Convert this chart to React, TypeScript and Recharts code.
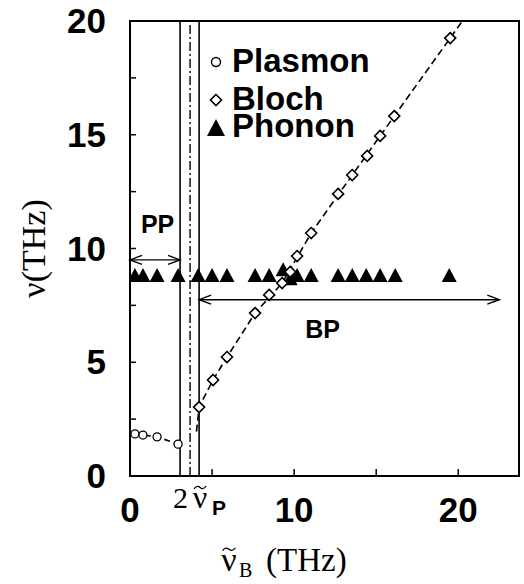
import React from 'react';
import {
  ComposedChart, XAxis, YAxis, Scatter, ReferenceLine, ReferenceArea, ReferenceDot, Legend,
} from 'recharts';

// ---------- data ----------
const plasmonX = [0.3, 0.79, 1.65, 2.93];
const plasmonY = [1.85, 1.8, 1.72, 1.4];

const blochX = [4.21, 5.06, 5.91, 7.62, 8.48, 9.27, 9.76, 10.18, 11.04, 12.68, 13.54, 14.45, 15.24, 16.1, 19.51];
const blochY = [3.03, 4.22, 5.23, 7.16, 7.96, 8.48, 8.97, 9.67, 10.68, 12.4, 13.23, 14.07, 14.95, 15.82, 19.25];

// dashed guide drawn through the Bloch points, with its two visible ends
const blochFitX = [4.05, 4.21, 5.06, 5.91, 7.62, 9.27, 11.04, 13.54, 16.1, 19.51, 20.25];
const blochFitY = [1.95, 3.03, 4.22, 5.23, 7.16, 8.48, 10.68, 13.23, 15.82, 19.25, 20];

const phononX = [0.3, 0.79, 1.65, 2.93, 4.15, 5.0, 5.91, 7.62, 8.48, 9.33, 9.76, 10.18, 11.04, 12.68, 13.54, 14.39, 15.24, 16.16, 19.45];
const phononY = [8.75, 8.75, 8.75, 8.75, 8.75, 8.75, 8.75, 8.75, 8.75, 9.0, 8.6, 8.75, 8.75, 8.75, 8.75, 8.75, 8.75, 8.75, 8.75];

const xTicks = [0, 5, 10, 15, 20];
const xTickLabels = ['0', '', '10', '', '20'];
const yTicks = [0, 2.5, 5, 7.5, 10, 12.5, 15, 17.5, 20];
const yTickLabels = ['0', '', '5', '', '10', '', '15', '', '20'];

const lineVs = [3.05, 3.66, 4.21]; // solid, dash-dot, solid
const ppRange = [0, 3.05];
const ppLevel = 9.5;
const bpRange = [4.21, 22.5];
const bpLevel = 7.75;
const ppLabelPos = [1.68, 11.08];
const bpLabelPos = [11.74, 6.46];

const X_MAX = 23.7;
const Y_MAX = 20;

const zip = (xs: number[], ys: number[]) => xs.map((x, i) => ({ x, y: ys[i] }));
const plasmonData = zip(plasmonX, plasmonY);
const blochData = zip(blochX, blochY);
const blochFitData = zip(blochFitX, blochFitY);
const phononData = zip(phononX, phononY);

const SANS = '"Liberation Sans", Arial, Helvetica, sans-serif';
const SERIF = '"Liberation Serif", "Times New Roman", serif';

// ---------- shapes ----------
const CircleShape = (p: any) => (
  <circle cx={p.cx} cy={p.cy} r={4} fill="#fff" stroke="#000" strokeWidth={1.3} />
);
const DiamondShape = (p: any) => {
  const { cx, cy } = p;
  const h = 5.5;
  return (
    <path d={`M${cx},${cy - h}L${cx + h},${cy}L${cx},${cy + h}L${cx - h},${cy}Z`} fill="#fff" stroke="#000" strokeWidth={1.6} />
  );
};
const TriangleShape = (p: any) => {
  const { cx, cy } = p;
  return <path d={`M${cx},${cy - 9}L${cx + 7.5},${cy + 5}L${cx - 7.5},${cy + 5}Z`} fill="#000" />;
};
const NoShape = () => <g />;

const DoubleArrow = (p: any) => {
  const { x1, y1, x2, y2 } = p;
  const L = 12, W = 4.5;
  return (
    <g stroke="#000" strokeWidth={1.4} fill="none">
      <line x1={x1} y1={y1} x2={x2} y2={y2} />
      <polyline points={`${x1 + L},${y1 - W} ${x1},${y1} ${x1 + L},${y1 + W}`} />
      <polyline points={`${x2 - L},${y2 - W} ${x2},${y2} ${x2 - L},${y2 + W}`} />
    </g>
  );
};

const XTick = (p: any) => {
  const { x, y, payload } = p;
  const lbl = xTickLabels[xTicks.indexOf(payload.value)] ?? '';
  return (
    <g>
      {payload.value !== 0 && <line x1={x} y1={y} x2={x} y2={y - 7} stroke="#000" strokeWidth={1.5} />}
      {lbl && (
        <text x={x} y={y + 46} textAnchor="middle" fontFamily={SANS} fontWeight="bold" fontSize={35} fill="#000">
          {lbl}
        </text>
      )}
    </g>
  );
};

const YTick = (p: any) => {
  const { x, y, payload } = p;
  const lbl = yTickLabels[yTicks.indexOf(payload.value)] ?? '';
  return (
    <g>
      {payload.value !== 0 && payload.value !== Y_MAX && (
        <line x1={x} y1={y} x2={x + 6} y2={y} stroke="#000" strokeWidth={1.5} />
      )}
      {lbl && (
        <text x={x - 24} y={y + 12} textAnchor="end" fontFamily={SANS} fontWeight="bold" fontSize={35} fill="#000">
          {lbl}
        </text>
      )}
    </g>
  );
};

// nu with a tilde (drawn as a small wave) placed over it
const NuTilde = ({ cx, base, size }: { cx: number; base: number; size: number }) => {
  const ty = base - size * 0.64;
  const w = size * 0.19;
  return (
    <g>
      <text x={cx} y={base} textAnchor="middle" fontFamily={SERIF} fontSize={size} fill="#000">ν</text>
      <path
        d={`M${cx - w},${ty + 1.5} C${cx - w * 0.6},${ty - 2.5} ${cx - w * 0.2},${ty - 1} ${cx},${ty} S${cx + w * 0.6},${ty + 2.5} ${cx + w},${ty - 1.5}`}
        fill="none"
        stroke="#000"
        strokeWidth={1.3}
      />
    </g>
  );
};

const XLabel = (p: any) => {
  const vb = p.viewBox || { x: 130, y: 476 };
  const base = vb.y + 95;
  return (
    <g>
      <NuTilde cx={vb.x + 99} base={base} size={34} />
      <text x={vb.x + 109} y={base + 6} fontFamily={SERIF} fontSize={20} fill="#000">B</text>
      <text x={vb.x + 136} y={base} fontFamily={SERIF} fontSize={33} fill="#000">(THz)</text>
    </g>
  );
};

const YLabel = (p: any) => {
  const vb = p.viewBox || { x: 0, y: 21, width: 130, height: 455 };
  const cx = 45;
  const cy = vb.y + vb.height / 2;
  return (
    <text x={cx} y={cy} transform={`rotate(-90 ${cx} ${cy})`} textAnchor="middle" fontFamily={SERIF} fontSize={34} fill="#000">
      ν(THz)
    </text>
  );
};

const NuPLabel = (p: any) => {
  const { cx, cy } = p;
  const base = cy + 32;
  return (
    <g>
      <text x={cx - 17} y={base} fontFamily={SERIF} fontSize={30} fill="#000">2</text>
      <NuTilde cx={cx + 10} base={base} size={32} />
      <text x={cx + 22} y={base + 7} fontFamily={SANS} fontWeight="bold" fontSize={21} fill="#000">P</text>
    </g>
  );
};

const TextMark = (txt: string) => (p: any) => (
  <text x={p.cx} y={p.cy + 9} textAnchor="middle" fontFamily={SANS} fontWeight="bold" fontSize={25} fill="#000">
    {txt}
  </text>
);

const legendItems = [
  { name: 'Plasmon', top: 0, iconTop: 7, icon: 'circle' },
  { name: 'Bloch', top: 38, iconTop: 45, icon: 'diamond' },
  { name: 'Phonon', top: 65, iconTop: 73, icon: 'triangle' },
];

const LegendContent = () => (
  <div style={{ position: 'relative', width: 170, height: 110, fontFamily: SANS, fontWeight: 'bold', fontSize: 33, color: '#000' }}>
    {legendItems.map((it) => (
      <React.Fragment key={it.name}>
        <svg width={22} height={22} style={{ position: 'absolute', left: 0, top: it.iconTop }}>
          {it.icon === 'circle' && <circle cx={11} cy={11} r={4.5} fill="#fff" stroke="#000" strokeWidth={1.4} />}
          {it.icon === 'diamond' && <path d="M11,5.5L16.5,11L11,16.5L5.5,11Z" fill="#fff" stroke="#000" strokeWidth={1.6} />}
          {it.icon === 'triangle' && <path d="M11,2L20,19L2,19Z" fill="#000" />}
        </svg>
        <span style={{ position: 'absolute', left: 27, top: it.top + 4.5, lineHeight: '24px', whiteSpace: 'nowrap' }}>{it.name}</span>
      </React.Fragment>
    ))}
  </div>
);

export default function App() {
  return (
    <div style={{ position: 'absolute', left: 0, top: 0, width: 524, height: 584, background: '#fff' }}>
      <ComposedChart width={524} height={584} margin={{ top: 21, right: 5, bottom: 0, left: 0 }}>
        <XAxis
          type="number"
          dataKey="x"
          domain={[0, X_MAX]}
          ticks={xTicks}
          interval={0}
          allowDataOverflow
          height={108}
          tickSize={0}
          tickMargin={0}
          tickLine={false}
          axisLine={{ stroke: '#000', strokeWidth: 2 }}
          tick={(p: any) => <XTick {...p} />}
          label={{ content: XLabel }}
        />
        <YAxis
          type="number"
          dataKey="y"
          domain={[0, Y_MAX]}
          ticks={yTicks}
          interval={0}
          allowDataOverflow
          width={130}
          tickSize={0}
          tickMargin={0}
          tickLine={false}
          axisLine={{ stroke: '#000', strokeWidth: 2 }}
          tick={(p: any) => <YTick {...p} />}
          label={{ content: YLabel }}
        />
        <ReferenceArea x1={0} x2={X_MAX} y1={0} y2={Y_MAX} fill="none" stroke="#000" strokeWidth={2} ifOverflow="visible" />

        <ReferenceLine x={lineVs[0]} stroke="#000" strokeWidth={1.6} />
        <ReferenceLine x={lineVs[1]} stroke="#000" strokeWidth={1.4} strokeDasharray="9 3 2 3" />
        <ReferenceLine x={lineVs[2]} stroke="#000" strokeWidth={1.6} />

        <ReferenceLine segment={[{ x: ppRange[0], y: ppLevel }, { x: ppRange[1], y: ppLevel }]} shape={DoubleArrow} ifOverflow="visible" />
        <ReferenceLine segment={[{ x: bpRange[0], y: bpLevel }, { x: bpRange[1], y: bpLevel }]} shape={DoubleArrow} ifOverflow="visible" />

        <Scatter name="Phonon" data={phononData} shape={TriangleShape} isAnimationActive={false} />
        <Scatter
          name="Plasmon"
          data={plasmonData}
          shape={CircleShape}
          line={{ stroke: '#000', strokeWidth: 1.6, strokeDasharray: '6 4' }}
          isAnimationActive={false}
        />
        <Scatter
          name="BlochFit"
          data={blochFitData}
          shape={NoShape}
          line={{ stroke: '#000', strokeWidth: 1.6, strokeDasharray: '7 4' }}
          isAnimationActive={false}
        />
        <Scatter name="Bloch" data={blochData} shape={DiamondShape} isAnimationActive={false} />

        <ReferenceDot x={ppLabelPos[0]} y={ppLabelPos[1]} r={0} shape={TextMark('PP')} ifOverflow="visible" />
        <ReferenceDot x={bpLabelPos[0]} y={bpLabelPos[1]} r={0} shape={TextMark('BP')} ifOverflow="visible" />
        <ReferenceDot x={lineVs[1]} y={0} r={0} shape={NuPLabel} ifOverflow="visible" />

        <Legend
          layout="vertical"
          align="center"
          verticalAlign="middle"
          content={LegendContent}
          wrapperStyle={{ position: 'absolute', left: 205, top: 44, width: 170, height: 110 }}
        />
      </ComposedChart>
    </div>
  );
}
